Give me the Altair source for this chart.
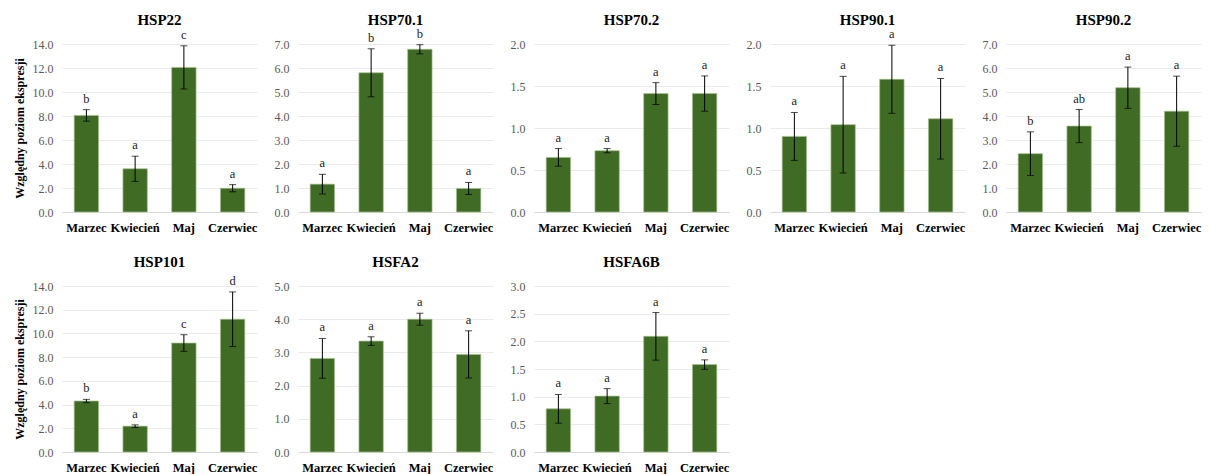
import altair as alt
import pandas as pd

FONT = "Liberation Serif"
GREEN = "#3f6b24"

months = ["Marzec", "Kwiecień", "Maj", "Czerwiec"]
genes = ["HSP22", "HSP70.1", "HSP70.2", "HSP90.1", "HSP90.2", "HSP101", "HSFA2", "HSFA6B"]

hsp22_mean = [8.05, 3.6, 12.05, 1.98]
hsp22_err = [0.48, 1.05, 1.8, 0.3]
hsp22_sig = ["b", "a", "c", "a"]

hsp70_1_mean = [1.16, 5.8, 6.78, 0.98]
hsp70_1_err = [0.41, 1.0, 0.19, 0.25]
hsp70_1_sig = ["a", "b", "b", "a"]

hsp70_2_mean = [0.65, 0.73, 1.41, 1.41]
hsp70_2_err = [0.105, 0.025, 0.13, 0.21]
hsp70_2_sig = ["a", "a", "a", "a"]

hsp90_1_mean = [0.90, 1.04, 1.58, 1.11]
hsp90_1_err = [0.285, 0.575, 0.405, 0.48]
hsp90_1_sig = ["a", "a", "a", "a"]

hsp90_2_mean = [2.43, 3.58, 5.18, 4.2]
hsp90_2_err = [0.91, 0.69, 0.86, 1.46]
hsp90_2_sig = ["b", "ab", "a", "a"]

hsp101_mean = [4.3, 2.18, 9.19, 11.2]
hsp101_err = [0.14, 0.11, 0.7, 2.3]
hsp101_sig = ["b", "a", "c", "d"]

hsfa2_mean = [2.82, 3.34, 4.0, 2.94]
hsfa2_err = [0.6, 0.13, 0.18, 0.71]
hsfa2_sig = ["a", "a", "a", "a"]

hsfa6b_mean = [0.78, 1.01, 2.09, 1.58]
hsfa6b_err = [0.26, 0.135, 0.43, 0.085]
hsfa6b_sig = ["a", "a", "a", "a"]

y_max = [14, 7, 2, 2, 7, 14, 5, 3]
y_step = [2, 1, 0.5, 0.5, 1, 2, 1, 0.5]
y_title = "Względny poziom ekspresji"

all_means = [hsp22_mean, hsp70_1_mean, hsp70_2_mean, hsp90_1_mean, hsp90_2_mean,
             hsp101_mean, hsfa2_mean, hsfa6b_mean]
all_errs = [hsp22_err, hsp70_1_err, hsp70_2_err, hsp90_1_err, hsp90_2_err,
            hsp101_err, hsfa2_err, hsfa6b_err]
all_sigs = [hsp22_sig, hsp70_1_sig, hsp70_2_sig, hsp90_1_sig, hsp90_2_sig,
            hsp101_sig, hsfa2_sig, hsfa6b_sig]

W = 195


def panel(i):
    gene = genes[i]
    df = pd.DataFrame({
        "month": months,
        "mean": all_means[i],
        "err": all_errs[i],
        "sig": all_sigs[i],
    })
    df["lo"] = df["mean"] - df["err"]
    df["hi"] = df["mean"] + df["err"]

    ymax = y_max[i]
    step = y_step[i]
    n = int(round(ymax / step))
    vals = [round(k * step, 2) for k in range(n + 1)]

    show_title = i in (0, 5)
    xscale = alt.Scale(paddingInner=0.5, paddingOuter=0.25)
    xaxis = alt.Axis(title=None, labelAngle=0, labelFont=FONT, labelFontWeight="bold",
                     labelFontSize=12.5, labelColor="black", ticks=False, tickSize=0,
                     domainColor="#d9d9d9", domainWidth=1, labelPadding=9, grid=False)
    x = alt.X("month:N", sort=months, scale=xscale, axis=xaxis)

    yscale = alt.Scale(domain=[0, ymax], nice=False, zero=True)
    if show_title:
        yaxis = alt.Axis(values=vals, format=".1f", grid=True, gridColor="#ebebeb",
                         domain=False, ticks=False, tickSize=0, labelPadding=9,
                         labelFont=FONT, labelFontSize=12, labelColor="#595959",
                         title=y_title, titleFont=FONT, titleFontWeight="bold",
                         titleFontSize=12, titleColor="black", titlePadding=6)
    else:
        yaxis = alt.Axis(values=vals, format=".1f", grid=True, gridColor="#ebebeb",
                         domain=False, ticks=False, tickSize=0, labelPadding=9,
                         labelFont=FONT, labelFontSize=12, labelColor="#595959",
                         title=None)

    base = alt.Chart(df)
    bars = base.mark_bar(color=GREEN, stroke="#a6bf8c", strokeWidth=0.7).encode(
        x=x, y=alt.Y("mean:Q", scale=yscale, axis=yaxis))
    rule = base.mark_rule(color="black", strokeWidth=1).encode(
        x=x, y=alt.Y("lo:Q", scale=yscale, axis=yaxis), y2="hi:Q")
    cap_hi = base.mark_tick(color="black", size=7, thickness=1).encode(
        x=x, y=alt.Y("hi:Q", scale=yscale, axis=yaxis))
    cap_lo = base.mark_tick(color="black", size=7, thickness=1).encode(
        x=x, y=alt.Y("lo:Q", scale=yscale, axis=yaxis))
    text = base.mark_text(baseline="bottom", dy=-4, font=FONT, fontSize=12.5,
                          color="#222222").encode(
        x=x, y=alt.Y("hi:Q", scale=yscale, axis=yaxis), text="sig:N")

    title_df = pd.DataFrame({"gene": [gene]})
    title = alt.Chart(title_df).mark_text(
        font=FONT, fontSize=15, fontWeight="bold", color="black",
        baseline="alphabetic", align="center").encode(
        text="gene:N", x=alt.value(W / 2), y=alt.value(-19))

    h = 168 if i < 5 else 166
    return alt.layer(bars, rule, cap_hi, cap_lo, text, title).properties(width=W, height=h)


chart = alt.concat(*[panel(i) for i in range(len(genes))], columns=5,
                   spacing=alt.RowColnumber(row=74, column=41), bounds="flush"
                   ).configure_view(stroke=None).properties(background="white")

chart.save("out.html", embed_options={"renderer": "svg", "actions": False})
